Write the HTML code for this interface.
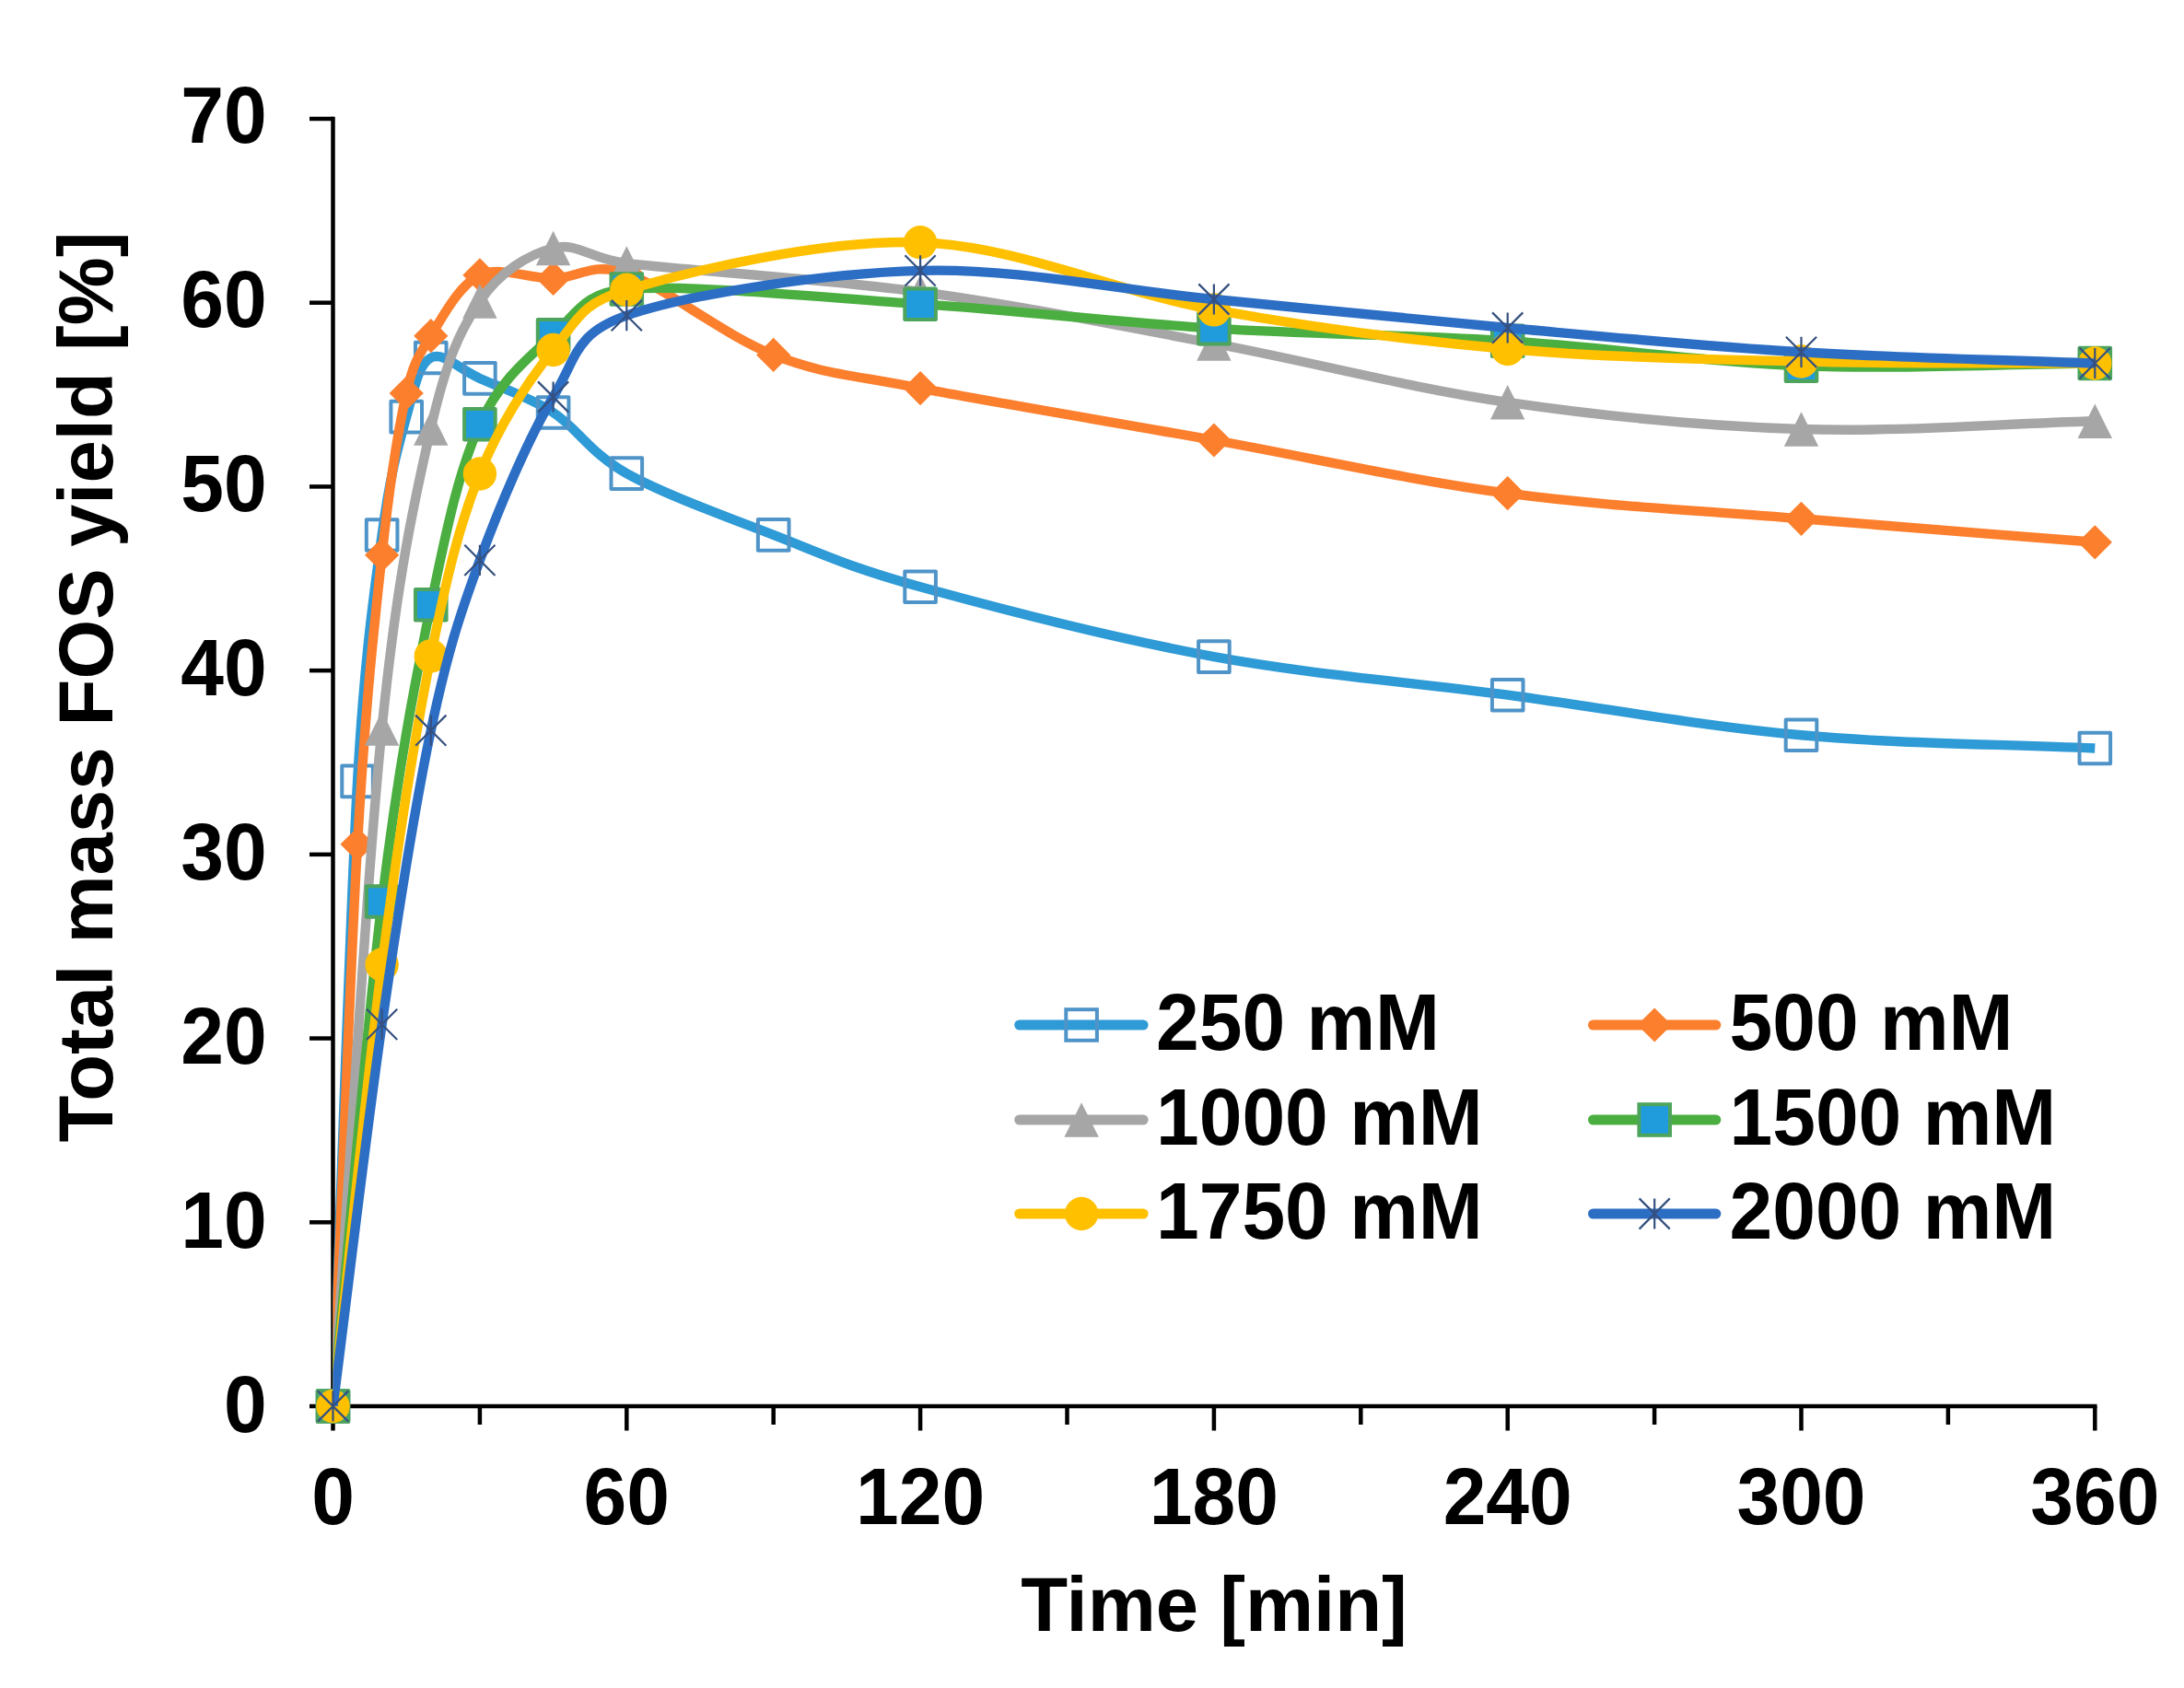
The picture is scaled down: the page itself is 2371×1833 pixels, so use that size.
<!DOCTYPE html>
<html lang="en"><head><meta charset="utf-8"><title>Total mass FOS yield</title>
<style>html,body{margin:0;padding:0;background:#fff;}body{width:2371px;height:1833px;overflow:hidden;}svg{display:block;}text{font-family:'Liberation Sans', Arial, Helvetica, sans-serif;font-weight:700;font-size:83px;fill:#000;}</style></head><body>
<svg width="2371" height="1833" viewBox="0 0 2371 1833">
<rect width="2371" height="1833" fill="#fff"/>
<g stroke="#000" stroke-width="4.5" fill="none" stroke-linecap="butt">
<path d="M361.50 126.75 V1553.50"/>
<path d="M336.00 1527.00 H2276.55"/>
<path d="M336.00 1327.29 H361.50"/>
<path d="M336.00 1127.57 H361.50"/>
<path d="M336.00 927.86 H361.50"/>
<path d="M336.00 728.14 H361.50"/>
<path d="M336.00 528.43 H361.50"/>
<path d="M336.00 328.71 H361.50"/>
<path d="M336.00 129.00 H361.50"/>
<path d="M520.90 1527.00 V1547.00"/>
<path d="M680.30 1527.00 V1553.50"/>
<path d="M839.70 1527.00 V1547.00"/>
<path d="M999.10 1527.00 V1553.50"/>
<path d="M1158.50 1527.00 V1547.00"/>
<path d="M1317.90 1527.00 V1553.50"/>
<path d="M1477.30 1527.00 V1547.00"/>
<path d="M1636.70 1527.00 V1553.50"/>
<path d="M1796.10 1527.00 V1547.00"/>
<path d="M1955.50 1527.00 V1553.50"/>
<path d="M2114.90 1527.00 V1547.00"/>
<path d="M2274.30 1527.00 V1553.50"/>
</g>
<defs><clipPath id="plot"><rect x="361.30" y="89.00" width="1952.80" height="1438.00"/></clipPath></defs>
<g fill="none" stroke-linejoin="round" stroke-linecap="butt">
<g>
<path d="M361.50 1527.00 C370.36 1300.80 379.21 1006.07 388.07 848.40 C395.60 714.25 405.78 646.97 414.63 581.00 C423.36 516.02 432.34 484.68 441.20 452.60 C450.06 420.52 454.48 395.45 467.77 388.50 C481.05 381.55 498.76 400.98 520.90 410.90 C543.04 420.82 574.03 430.80 600.60 448.00 C627.17 465.20 640.45 491.95 680.30 514.10 C720.15 536.25 786.57 560.37 839.70 580.90 C892.83 601.43 919.40 615.27 999.10 637.30 C1078.80 659.33 1211.63 693.53 1317.90 713.10 C1424.17 732.67 1530.43 740.50 1636.70 754.70 C1742.97 768.90 1849.23 788.67 1955.50 798.30 C2061.77 807.93 2168.03 807.77 2274.30 812.50" stroke="#2E9AD6" stroke-width="10.4" fill="none" clip-path="url(#plot)"/>
<rect x="344.70" y="1510.20" width="33.60" height="33.60" fill="none" stroke="#4F94C8" stroke-width="4"/>
<rect x="371.27" y="831.60" width="33.60" height="33.60" fill="none" stroke="#4F94C8" stroke-width="4"/>
<rect x="397.83" y="564.20" width="33.60" height="33.60" fill="none" stroke="#4F94C8" stroke-width="4"/>
<rect x="424.40" y="435.80" width="33.60" height="33.60" fill="none" stroke="#4F94C8" stroke-width="4"/>
<rect x="450.97" y="371.70" width="33.60" height="33.60" fill="none" stroke="#4F94C8" stroke-width="4"/>
<rect x="504.10" y="394.10" width="33.60" height="33.60" fill="none" stroke="#4F94C8" stroke-width="4"/>
<rect x="583.80" y="431.20" width="33.60" height="33.60" fill="none" stroke="#4F94C8" stroke-width="4"/>
<rect x="663.50" y="497.30" width="33.60" height="33.60" fill="none" stroke="#4F94C8" stroke-width="4"/>
<rect x="822.90" y="564.10" width="33.60" height="33.60" fill="none" stroke="#4F94C8" stroke-width="4"/>
<rect x="982.30" y="620.50" width="33.60" height="33.60" fill="none" stroke="#4F94C8" stroke-width="4"/>
<rect x="1301.10" y="696.30" width="33.60" height="33.60" fill="none" stroke="#4F94C8" stroke-width="4"/>
<rect x="1619.90" y="737.90" width="33.60" height="33.60" fill="none" stroke="#4F94C8" stroke-width="4"/>
<rect x="1938.70" y="781.50" width="33.60" height="33.60" fill="none" stroke="#4F94C8" stroke-width="4"/>
<rect x="2257.50" y="795.70" width="33.60" height="33.60" fill="none" stroke="#4F94C8" stroke-width="4"/>
</g>
<g>
<path d="M361.50 1527.00 C370.36 1323.60 379.21 1070.85 388.07 916.80 C396.92 762.75 405.78 684.33 414.63 602.70 C423.49 521.07 432.34 466.67 441.20 427.00 C448.58 393.95 454.48 386.07 467.77 364.70 C481.05 343.33 498.76 309.18 520.90 298.80 C543.04 288.42 574.03 302.70 600.60 302.40 C627.17 302.10 642.57 283.90 680.30 297.00 C720.15 310.83 786.57 364.63 839.70 385.40 C892.83 406.17 919.40 406.17 999.10 421.60 C1078.80 437.03 1211.63 458.98 1317.90 478.00 C1424.17 497.02 1530.43 521.48 1636.70 535.70 C1742.97 549.92 1849.23 554.45 1955.50 563.30 C2061.77 572.15 2168.03 580.30 2274.30 588.80" stroke="#FC7F2D" stroke-width="10.4" fill="none" clip-path="url(#plot)"/>
<path d="M361.50 1508.40 L380.10 1527.00 L361.50 1545.60 L342.90 1527.00 Z" fill="#FC7F2D"/>
<path d="M388.07 898.20 L406.67 916.80 L388.07 935.40 L369.47 916.80 Z" fill="#FC7F2D"/>
<path d="M414.63 584.10 L433.23 602.70 L414.63 621.30 L396.03 602.70 Z" fill="#FC7F2D"/>
<path d="M441.20 408.40 L459.80 427.00 L441.20 445.60 L422.60 427.00 Z" fill="#FC7F2D"/>
<path d="M467.77 346.10 L486.37 364.70 L467.77 383.30 L449.17 364.70 Z" fill="#FC7F2D"/>
<path d="M520.90 280.20 L539.50 298.80 L520.90 317.40 L502.30 298.80 Z" fill="#FC7F2D"/>
<path d="M600.60 283.80 L619.20 302.40 L600.60 321.00 L582.00 302.40 Z" fill="#FC7F2D"/>
<path d="M680.30 278.40 L698.90 297.00 L680.30 315.60 L661.70 297.00 Z" fill="#FC7F2D"/>
<path d="M839.70 366.80 L858.30 385.40 L839.70 404.00 L821.10 385.40 Z" fill="#FC7F2D"/>
<path d="M999.10 403.00 L1017.70 421.60 L999.10 440.20 L980.50 421.60 Z" fill="#FC7F2D"/>
<path d="M1317.90 459.40 L1336.50 478.00 L1317.90 496.60 L1299.30 478.00 Z" fill="#FC7F2D"/>
<path d="M1636.70 517.10 L1655.30 535.70 L1636.70 554.30 L1618.10 535.70 Z" fill="#FC7F2D"/>
<path d="M1955.50 544.70 L1974.10 563.30 L1955.50 581.90 L1936.90 563.30 Z" fill="#FC7F2D"/>
<path d="M2274.30 570.20 L2292.90 588.80 L2274.30 607.40 L2255.70 588.80 Z" fill="#FC7F2D"/>
</g>
<g>
<path d="M361.50 1527.00 C379.21 1281.67 396.92 968.00 414.63 791.00 C431.08 626.67 450.06 542.33 467.77 465.00 C484.27 392.93 498.76 359.58 520.90 327.00 C543.04 294.42 574.03 276.33 600.60 269.50 C627.17 262.67 639.89 281.18 680.30 286.00 C746.72 293.92 892.83 302.50 999.10 317.00 C1105.37 331.50 1211.63 353.03 1317.90 373.00 C1424.17 392.97 1530.43 421.30 1636.70 436.80 C1742.97 452.30 1849.23 462.58 1955.50 466.00 C2061.77 469.42 2168.03 460.20 2274.30 457.30" stroke="#A6A6A6" stroke-width="10.4" fill="none" clip-path="url(#plot)"/>
<path d="M361.50 1508.30 L380.20 1545.70 L342.80 1545.70 Z" fill="#A6A6A6"/>
<path d="M414.63 772.30 L433.33 809.70 L395.93 809.70 Z" fill="#A6A6A6"/>
<path d="M467.77 446.30 L486.47 483.70 L449.07 483.70 Z" fill="#A6A6A6"/>
<path d="M520.90 308.30 L539.60 345.70 L502.20 345.70 Z" fill="#A6A6A6"/>
<path d="M600.60 250.80 L619.30 288.20 L581.90 288.20 Z" fill="#A6A6A6"/>
<path d="M680.30 267.30 L699.00 304.70 L661.60 304.70 Z" fill="#A6A6A6"/>
<path d="M999.10 298.30 L1017.80 335.70 L980.40 335.70 Z" fill="#A6A6A6"/>
<path d="M1317.90 354.30 L1336.60 391.70 L1299.20 391.70 Z" fill="#A6A6A6"/>
<path d="M1636.70 418.10 L1655.40 455.50 L1618.00 455.50 Z" fill="#A6A6A6"/>
<path d="M1955.50 447.30 L1974.20 484.70 L1936.80 484.70 Z" fill="#A6A6A6"/>
<path d="M2274.30 438.60 L2293.00 476.00 L2255.60 476.00 Z" fill="#A6A6A6"/>
</g>
<g>
<path d="M361.50 1527.00 C379.21 1344.33 396.92 1124.03 414.63 979.00 C432.34 833.97 450.06 743.17 467.77 656.80 C485.48 570.43 498.76 509.63 520.90 460.80 C543.04 411.97 574.03 388.27 600.60 363.80 C627.17 339.33 633.48 317.95 680.30 314.00 C746.72 308.40 892.83 323.10 999.10 330.20 C1105.37 337.30 1211.63 349.92 1317.90 356.60 C1424.17 363.28 1530.43 363.53 1636.70 370.30 C1742.97 377.07 1849.23 393.17 1955.50 397.20 C2061.77 401.23 2168.03 395.40 2274.30 394.50" stroke="#4BAE40" stroke-width="10.4" fill="none" clip-path="url(#plot)"/>
<rect x="344.70" y="1510.20" width="33.60" height="33.60" fill="#209CDC" stroke="#4DA45C" stroke-width="4"/>
<rect x="397.83" y="962.20" width="33.60" height="33.60" fill="#209CDC" stroke="#4DA45C" stroke-width="4"/>
<rect x="450.97" y="640.00" width="33.60" height="33.60" fill="#209CDC" stroke="#4DA45C" stroke-width="4"/>
<rect x="504.10" y="444.00" width="33.60" height="33.60" fill="#209CDC" stroke="#4DA45C" stroke-width="4"/>
<rect x="583.80" y="347.00" width="33.60" height="33.60" fill="#209CDC" stroke="#4DA45C" stroke-width="4"/>
<rect x="663.50" y="297.20" width="33.60" height="33.60" fill="#209CDC" stroke="#4DA45C" stroke-width="4"/>
<rect x="982.30" y="313.40" width="33.60" height="33.60" fill="#209CDC" stroke="#4DA45C" stroke-width="4"/>
<rect x="1301.10" y="339.80" width="33.60" height="33.60" fill="#209CDC" stroke="#4DA45C" stroke-width="4"/>
<rect x="1619.90" y="353.50" width="33.60" height="33.60" fill="#209CDC" stroke="#4DA45C" stroke-width="4"/>
<rect x="1938.70" y="380.40" width="33.60" height="33.60" fill="#209CDC" stroke="#4DA45C" stroke-width="4"/>
<rect x="2257.50" y="377.70" width="33.60" height="33.60" fill="#209CDC" stroke="#4DA45C" stroke-width="4"/>
</g>
<g>
<path d="M361.50 1527.00 C379.21 1367.17 396.92 1183.27 414.63 1047.50 C432.34 911.73 450.06 801.23 467.77 712.40 C485.48 623.57 498.76 569.90 520.90 514.50 C543.04 459.10 574.03 413.28 600.60 380.00 C627.17 346.72 630.89 329.27 680.30 314.80 C746.72 295.35 892.83 259.70 999.10 263.30 C1105.37 266.90 1211.63 317.12 1317.90 336.40 C1424.17 355.68 1530.43 369.65 1636.70 379.00 C1742.97 388.35 1849.23 389.92 1955.50 392.50 C2061.77 395.08 2168.03 393.83 2274.30 394.50" stroke="#FFC000" stroke-width="10.4" fill="none" clip-path="url(#plot)"/>
<circle cx="361.50" cy="1527.00" r="18.2" fill="#FFC000"/>
<circle cx="414.63" cy="1047.50" r="18.2" fill="#FFC000"/>
<circle cx="467.77" cy="712.40" r="18.2" fill="#FFC000"/>
<circle cx="520.90" cy="514.50" r="18.2" fill="#FFC000"/>
<circle cx="600.60" cy="380.00" r="18.2" fill="#FFC000"/>
<circle cx="680.30" cy="314.80" r="18.2" fill="#FFC000"/>
<circle cx="999.10" cy="263.30" r="18.2" fill="#FFC000"/>
<circle cx="1317.90" cy="336.40" r="18.2" fill="#FFC000"/>
<circle cx="1636.70" cy="379.00" r="18.2" fill="#FFC000"/>
<circle cx="1955.50" cy="392.50" r="18.2" fill="#FFC000"/>
<circle cx="2274.30" cy="394.50" r="18.2" fill="#FFC000"/>
</g>
<g>
<path d="M361.50 1527.00 C379.21 1388.80 396.92 1234.70 414.63 1112.40 C432.34 990.10 450.06 877.20 467.77 793.20 C485.48 709.20 498.76 668.77 520.90 608.40 C543.04 548.03 574.03 475.30 600.60 431.00 C627.17 386.70 624.03 361.96 680.30 342.60 C746.72 319.75 892.83 296.83 999.10 293.90 C1105.37 290.97 1211.63 314.65 1317.90 325.00 C1424.17 335.35 1530.43 346.45 1636.70 356.00 C1742.97 365.55 1849.23 375.88 1955.50 382.30 C2061.77 388.72 2168.03 390.43 2274.30 394.50" stroke="#2D6EC5" stroke-width="10.4" fill="none" clip-path="url(#plot)"/>
<path d="M344.90 1510.40 L378.10 1543.60 M344.90 1543.60 L378.10 1510.40 M361.50 1510.40 L361.50 1543.60" fill="none" stroke="#35507F" stroke-width="2.2"/>
<path d="M398.03 1095.80 L431.23 1129.00 M398.03 1129.00 L431.23 1095.80 M414.63 1095.80 L414.63 1129.00" fill="none" stroke="#35507F" stroke-width="2.2"/>
<path d="M451.17 776.60 L484.37 809.80 M451.17 809.80 L484.37 776.60 M467.77 776.60 L467.77 809.80" fill="none" stroke="#35507F" stroke-width="2.2"/>
<path d="M504.30 591.80 L537.50 625.00 M504.30 625.00 L537.50 591.80 M520.90 591.80 L520.90 625.00" fill="none" stroke="#35507F" stroke-width="2.2"/>
<path d="M584.00 414.40 L617.20 447.60 M584.00 447.60 L617.20 414.40 M600.60 414.40 L600.60 447.60" fill="none" stroke="#35507F" stroke-width="2.2"/>
<path d="M663.70 326.00 L696.90 359.20 M663.70 359.20 L696.90 326.00 M680.30 326.00 L680.30 359.20" fill="none" stroke="#35507F" stroke-width="2.2"/>
<path d="M982.50 277.30 L1015.70 310.50 M982.50 310.50 L1015.70 277.30 M999.10 277.30 L999.10 310.50" fill="none" stroke="#35507F" stroke-width="2.2"/>
<path d="M1301.30 308.40 L1334.50 341.60 M1301.30 341.60 L1334.50 308.40 M1317.90 308.40 L1317.90 341.60" fill="none" stroke="#35507F" stroke-width="2.2"/>
<path d="M1620.10 339.40 L1653.30 372.60 M1620.10 372.60 L1653.30 339.40 M1636.70 339.40 L1636.70 372.60" fill="none" stroke="#35507F" stroke-width="2.2"/>
<path d="M1938.90 365.70 L1972.10 398.90 M1938.90 398.90 L1972.10 365.70 M1955.50 365.70 L1955.50 398.90" fill="none" stroke="#35507F" stroke-width="2.2"/>
<path d="M2257.70 377.90 L2290.90 411.10 M2257.70 411.10 L2290.90 377.90 M2274.30 377.90 L2274.30 411.10" fill="none" stroke="#35507F" stroke-width="2.2"/>
</g>
</g>
<text transform="translate(289.6 1554.8) scale(1.012 1.052)" text-anchor="end">0</text>
<text transform="translate(289.6 1354.8) scale(1.012 1.052)" text-anchor="end">10</text>
<text transform="translate(289.6 1154.8) scale(1.012 1.052)" text-anchor="end">20</text>
<text transform="translate(289.6 954.8) scale(1.012 1.052)" text-anchor="end">30</text>
<text transform="translate(289.6 754.8) scale(1.012 1.052)" text-anchor="end">40</text>
<text transform="translate(289.6 554.8) scale(1.012 1.052)" text-anchor="end">50</text>
<text transform="translate(289.6 354.8) scale(1.012 1.052)" text-anchor="end">60</text>
<text transform="translate(289.6 154.8) scale(1.012 1.052)" text-anchor="end">70</text>
<text transform="translate(361.5 1655) scale(1.012 1.052)" text-anchor="middle">0</text>
<text transform="translate(680.3 1655) scale(1.012 1.052)" text-anchor="middle">60</text>
<text transform="translate(999.1 1655) scale(1.012 1.052)" text-anchor="middle">120</text>
<text transform="translate(1317.9 1655) scale(1.012 1.052)" text-anchor="middle">180</text>
<text transform="translate(1636.7 1655) scale(1.012 1.052)" text-anchor="middle">240</text>
<text transform="translate(1955.5 1655) scale(1.012 1.052)" text-anchor="middle">300</text>
<text transform="translate(2274.3 1655) scale(1.012 1.052)" text-anchor="middle">360</text>
<text x="1318" y="1771.2" text-anchor="middle" style="font-size:83.3px">Time [min]</text>
<text transform="translate(121.8 746) rotate(-90)" text-anchor="middle" style="font-size:83.3px">Total mass FOS yield [%]</text>
<path d="M1106.70 1113.00 H1241.10" stroke="#2E9AD6" stroke-width="11.0" stroke-linecap="round" fill="none"/>
<rect x="1157.30" y="1096.20" width="33.60" height="33.60" fill="none" stroke="#4F94C8" stroke-width="4"/>
<text transform="translate(1255.0 1140.0) scale(1.012 1.052)">250 mM</text>
<path d="M1729.50 1113.00 H1862.80" stroke="#FC7F2D" stroke-width="11.0" stroke-linecap="round" fill="none"/>
<path d="M1796.20 1094.40 L1814.80 1113.00 L1796.20 1131.60 L1777.60 1113.00 Z" fill="#FC7F2D"/>
<text transform="translate(1877.5 1140.0) scale(1.012 1.052)">500 mM</text>
<path d="M1106.70 1216.00 H1241.10" stroke="#A6A6A6" stroke-width="11.0" stroke-linecap="round" fill="none"/>
<path d="M1174.10 1197.30 L1192.80 1234.70 L1155.40 1234.70 Z" fill="#A6A6A6"/>
<text transform="translate(1255.0 1243.0) scale(1.012 1.052)">1000 mM</text>
<path d="M1729.50 1216.00 H1862.80" stroke="#4BAE40" stroke-width="11.0" stroke-linecap="round" fill="none"/>
<rect x="1779.40" y="1199.20" width="33.60" height="33.60" fill="#209CDC" stroke="#4DA45C" stroke-width="4"/>
<text transform="translate(1877.5 1243.0) scale(1.012 1.052)">1500 mM</text>
<path d="M1106.70 1318.00 H1241.10" stroke="#FFC000" stroke-width="11.0" stroke-linecap="round" fill="none"/>
<circle cx="1174.10" cy="1318.00" r="18.2" fill="#FFC000"/>
<text transform="translate(1255.0 1345.0) scale(1.012 1.052)">1750 mM</text>
<path d="M1729.50 1318.00 H1862.80" stroke="#2D6EC5" stroke-width="11.0" stroke-linecap="round" fill="none"/>
<path d="M1779.60 1301.40 L1812.80 1334.60 M1779.60 1334.60 L1812.80 1301.40 M1796.20 1301.40 L1796.20 1334.60" fill="none" stroke="#35507F" stroke-width="2.2"/>
<text transform="translate(1877.5 1345.0) scale(1.012 1.052)">2000 mM</text>
</svg></body></html>
